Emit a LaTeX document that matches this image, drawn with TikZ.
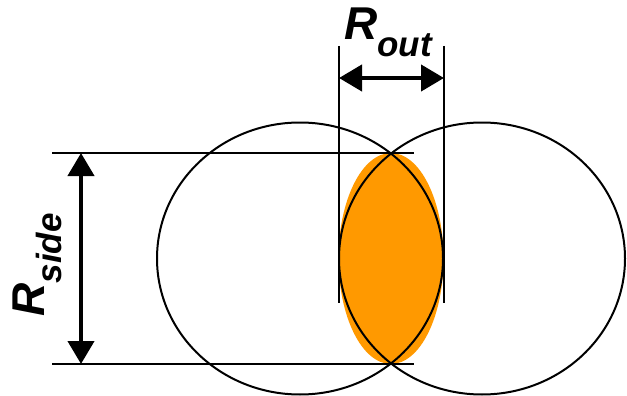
\documentclass[tikz,border=0pt]{standalone}
\usepackage{fontspec}
\setmainfont{Liberation Sans}
\usepackage{xcolor}
\definecolor{cLens}{HTML}{FF9900}
\usetikzlibrary{arrows.meta}
\tikzset{
  ring/.style={draw=black,line width=2pt},
  guide/.style={draw=black,line width=2pt},
  dimarrow/.style={{Triangle[length=23pt,width=26pt]}-{Triangle[length=23pt,width=26pt]},line width=4.2pt},
  dimlabel/.style={inner sep=0pt,font=\fontsize{46}{46}\selectfont\bfseries\itshape},
}
\newcommand{\sublabel}[1]{\raisebox{-17pt}{\fontsize{35}{35}\selectfont #1}}

\begin{document}
\begin{tikzpicture}[x=1pt,y=-1pt]
  \useasboundingbox (0,0) rectangle (627,396);
  % lens
  \fill[cLens] (391,258.5) ellipse [x radius=52.5,y radius=105.5];
  \draw[ring] (300,258.5) ellipse [x radius=143,y radius=136];
  \draw[ring] (482,258.5) ellipse [x radius=143,y radius=136];
  % R_side
  \coordinate (st0) at (52,153);
  \coordinate (st1) at (414,153);
  \coordinate (sb0) at (52,364);
  \coordinate (sb1) at (414,364);
  \draw[guide] (st0) -- (st1);
  \draw[guide] (sb0) -- (sb1);
  \coordinate (sa) at (81,153);
  \coordinate (sb) at (81,364);
  \draw[dimarrow] (sa) -- (sb);
  \node[dimlabel,rotate=90,anchor=base] (lside) at (45,265) {R\sublabel{side}};
  % R_out
  \coordinate (ol0) at (339,46);
  \coordinate (ol1) at (339,303);
  \coordinate (or0) at (444,46);
  \coordinate (or1) at (444,303);
  \draw[guide] (ol0) -- (ol1);
  \draw[guide] (or0) -- (or1);
  \coordinate (oa) at (339,78);
  \coordinate (ob) at (444,78);
  \draw[dimarrow] (oa) -- (ob);
  \node[dimlabel,anchor=base] (lout) at (388,40) {R\sublabel{out}};
\end{tikzpicture}
\end{document}
